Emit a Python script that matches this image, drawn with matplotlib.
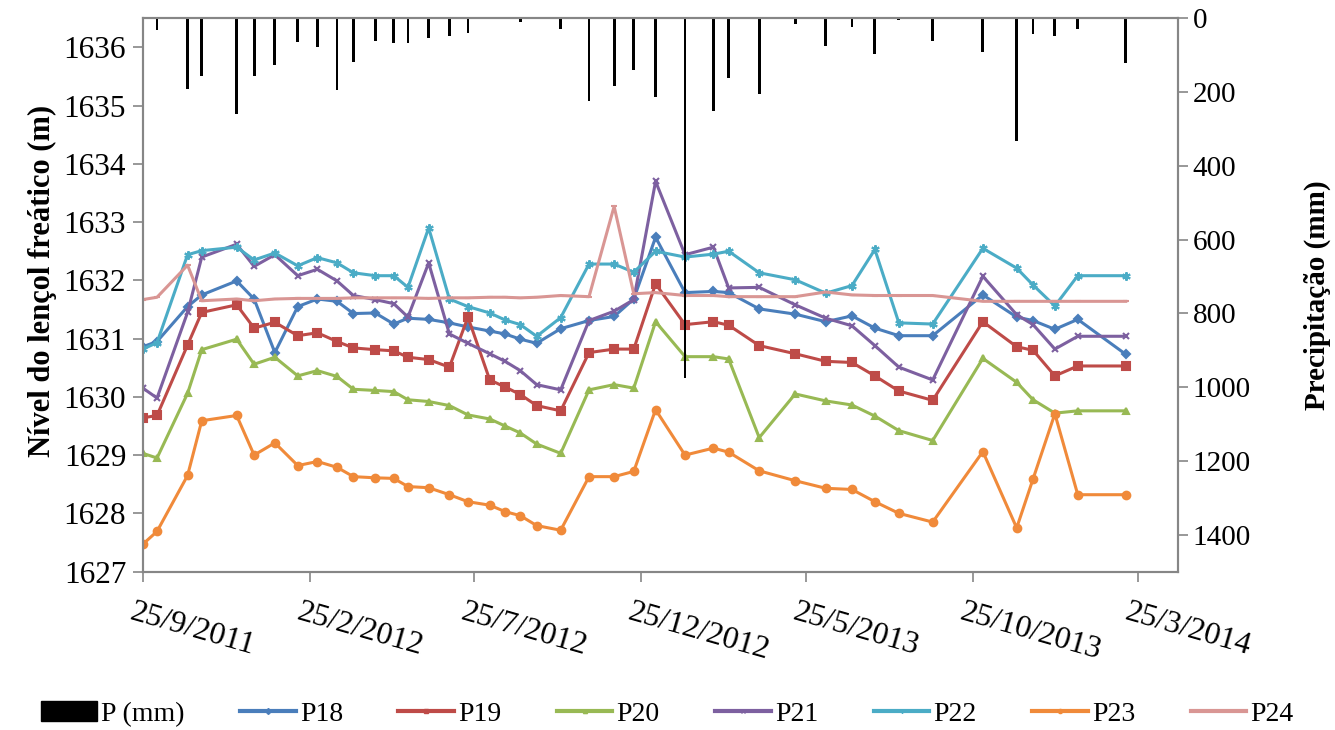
import datetime as dt
import matplotlib
matplotlib.use("Agg")
import matplotlib.pyplot as plt
from matplotlib.patches import Patch
from matplotlib.lines import Line2D
from matplotlib.transforms import ScaledTranslation

plt.rcParams["font.family"] = ["Liberation Serif", "DejaVu Serif"]

# sampling dates (water table readings and accumulated rainfall)
dates = [
    "2011-09-25", "2011-10-08", "2011-11-05", "2011-11-18", "2011-12-20",
    "2012-01-05", "2012-01-24", "2012-02-14", "2012-03-03", "2012-03-21",
    "2012-04-05", "2012-04-25", "2012-05-12", "2012-05-25", "2012-06-13",
    "2012-07-02", "2012-07-19", "2012-08-08", "2012-08-22", "2012-09-05",
    "2012-09-20", "2012-10-12", "2012-11-07", "2012-11-30", "2012-12-18",
    "2013-01-07", "2013-02-03", "2013-03-01", "2013-03-15", "2013-04-12",
    "2013-05-15", "2013-06-12", "2013-07-06", "2013-07-27", "2013-08-18",
    "2013-09-18", "2013-11-03", "2013-12-04", "2013-12-19", "2014-01-08",
    "2014-01-29", "2014-03-14",
]

# precipitation (mm)
precip = [
    0, 32, 191, 156, 260, 157, 128, 64, 79, 194,
    118, 63, 68, 68, 53, 48, 39, 0, 3, 10,
    0, 29, 223, 185, 141, 214, 975, 252, 161, 204,
    16, 74, 25, 97, 6, 61, 92, 334, 43, 47,
    28, 122,
]

# water table level (m)
p18 = [
    1630.86, 1630.95, 1631.55, 1631.75, 1631.99, 1631.68, 1630.76, 1631.55, 1631.68, 1631.64,
    1631.43, 1631.44, 1631.25, 1631.35, 1631.33, 1631.27, 1631.20, 1631.13, 1631.08, 1630.99,
    1630.92, 1631.17, 1631.31, 1631.38, 1631.68, 1632.74, 1631.79, 1631.81, 1631.79, 1631.51,
    1631.42, 1631.29, 1631.39, 1631.18, 1631.05, 1631.05, 1631.75, 1631.37, 1631.31, 1631.16,
    1631.33, 1630.73,
]
p19 = [
    1629.64, 1629.68, 1630.89, 1631.45, 1631.58, 1631.18, 1631.28, 1631.05, 1631.10, 1630.95,
    1630.84, 1630.81, 1630.79, 1630.68, 1630.64, 1630.51, 1631.37, 1630.29, 1630.17, 1630.04,
    1629.85, 1629.76, 1630.76, 1630.82, 1630.82, 1631.94, 1631.24, 1631.29, 1631.23, 1630.88,
    1630.74, 1630.61, 1630.59, 1630.36, 1630.10, 1629.94, 1631.29, 1630.86, 1630.80, 1630.36,
    1630.53, 1630.53,
]
p20 = [
    1629.03, 1628.95, 1630.06, 1630.81, 1630.99, 1630.56, 1630.68, 1630.36, 1630.45, 1630.35,
    1630.13, 1630.11, 1630.09, 1629.95, 1629.92, 1629.85, 1629.69, 1629.62, 1629.50, 1629.38,
    1629.19, 1629.03, 1630.12, 1630.21, 1630.15, 1631.29, 1630.69, 1630.69, 1630.65, 1629.30,
    1630.05, 1629.93, 1629.86, 1629.67, 1629.42, 1629.25, 1630.66, 1630.25, 1629.95, 1629.72,
    1629.76, 1629.76,
]
p21 = [
    1630.15, 1629.98, 1631.45, 1632.40, 1632.62, 1632.24, 1632.44, 1632.08, 1632.19, 1631.99,
    1631.74, 1631.67, 1631.60, 1631.37, 1632.30, 1631.08, 1630.92, 1630.74, 1630.61, 1630.45,
    1630.21, 1630.12, 1631.31, 1631.47, 1631.67, 1633.70, 1632.44, 1632.57, 1631.87, 1631.88,
    1631.58, 1631.35, 1631.22, 1630.88, 1630.51, 1630.29, 1632.07, 1631.41, 1631.24, 1630.82,
    1631.04, 1631.04,
]
p22 = [
    1630.82, 1630.93, 1632.44, 1632.51, 1632.57, 1632.35, 1632.47, 1632.25, 1632.39, 1632.30,
    1632.13, 1632.08, 1632.08, 1631.88, 1632.90, 1631.68, 1631.55, 1631.44, 1631.32, 1631.24,
    1631.04, 1631.36, 1632.28, 1632.28, 1632.14, 1632.50, 1632.40, 1632.45, 1632.50, 1632.13,
    1632.01, 1631.78, 1631.91, 1632.53, 1631.27, 1631.25, 1632.55, 1632.21, 1631.92, 1631.56,
    1632.08, 1632.08,
]
p23 = [
    1627.47, 1627.69, 1628.65, 1629.59, 1629.68, 1629.00, 1629.21, 1628.82, 1628.89, 1628.79,
    1628.63, 1628.61, 1628.60, 1628.46, 1628.44, 1628.32, 1628.20, 1628.14, 1628.03, 1627.96,
    1627.79, 1627.71, 1628.63, 1628.63, 1628.72, 1629.78, 1629.00, 1629.12, 1629.05, 1628.73,
    1628.56, 1628.43, 1628.41, 1628.20, 1628.00, 1627.85, 1629.06, 1627.75, 1628.59, 1629.71,
    1628.32, 1628.32,
]
p24 = [
    1631.67, 1631.71, 1632.26, 1631.65, 1631.68, 1631.65, 1631.68, 1631.69, 1631.69, 1631.69,
    1631.70, 1631.70, 1631.70, 1631.70, 1631.69, 1631.70, 1631.70, 1631.71, 1631.71, 1631.70,
    1631.71, 1631.74, 1631.72, 1633.27, 1631.77, 1631.79, 1631.74, 1631.74, 1631.72, 1631.72,
    1631.72, 1631.80, 1631.75, 1631.74, 1631.74, 1631.74, 1631.64, 1631.64, 1631.64, 1631.64,
    1631.64, 1631.64,
]

tick_dates = ["2011-09-25", "2012-02-25", "2012-07-25", "2012-12-25",
              "2013-05-25", "2013-10-25", "2014-03-25"]

x = [dt.datetime.strptime(d, "%Y-%m-%d") for d in dates]
xt = [dt.datetime.strptime(d, "%Y-%m-%d") for d in tick_dates]

series = [
    ("P18", p18, "#4A7EBB", "D", 4),
    ("P19", p19, "#BE4B48", "s", 5.5),
    ("P20", p20, "#98B954", "^", 5),
    ("P21", p21, "#7D60A0", "x", 5),
    ("P22", p22, "#4BACC6", (6, 2, 0), 6),
    ("P23", p23, "#F08A3A", "o", 5.5),
    ("P24", p24, "#D99694", "_", 4),
]

grey = "#868686"
fig = plt.figure(figsize=(13.35, 7.30), dpi=100)
ax = fig.add_axes([0.107, 0.217, 0.7755, 0.758])

for name, vals, col, mk, ms in series:
    ax.plot(x, vals, color=col, lw=2.2, marker=mk, ms=ms, mew=1.5,
            mfc=col, mec=col, label=name)

ax.set_ylim(1627, 1636.5)
ax.set_yticks(range(1627, 1637))
ax.set_xlim(dt.datetime(2011, 9, 25), dt.datetime(2014, 5, 1))
ax.set_xticks(xt)
ax.set_xticklabels([f"{d.day}/{d.month}/{d.year}" for d in xt])
ax.set_ylabel("Nível do lençol freático (m)", fontsize=22, fontweight="bold")
ax.yaxis.set_label_coords(-0.083, 0.525)

# rainfall hanging from the top on the secondary axis
ax2 = ax.twinx()
ax2.bar(x, precip, width=2.6, color="black", align="center")
ax2.set_ylim(1500, 0)
ax2.set_yticks(range(0, 1401, 200))
ax2.set_ylabel("Precipitação (mm)", fontsize=21, fontweight="bold", labelpad=38)

for a in (ax, ax2):
    for s in a.spines.values():
        s.set_color(grey)
        s.set_linewidth(1.5)
    a.tick_params(colors="black", labelsize=21, length=7, width=1.2)
    a.tick_params(axis="both", color=grey)

ax.tick_params(axis="y", labelsize=22.5, pad=5)
ax.tick_params(axis="x", pad=22, labelsize=23)
for lbl in ax.get_xticklabels():
    lbl.set_rotation(-16)
    lbl.set_ha("left")
    lbl.set_va("center")
    lbl.set_rotation_mode("anchor")
    lbl.set_transform(lbl.get_transform() + ScaledTranslation(-9 / 72, 0, fig.dpi_scale_trans))

handles = [Patch(facecolor="black", edgecolor="black", label="P (mm)")]
for name, vals, col, mk, ms in series:
    handles.append(Line2D([], [], color=col, lw=3, marker=mk, ms=3, mfc=col, mec=col, label=name))

fig.legend(handles=handles, loc="center", bbox_to_anchor=(0.5, 0.022), ncol=8,
           frameon=False, fontsize=20, handlelength=2.0, handletextpad=0.15,
           columnspacing=2.0)

fig.savefig("out.png", dpi=100)
